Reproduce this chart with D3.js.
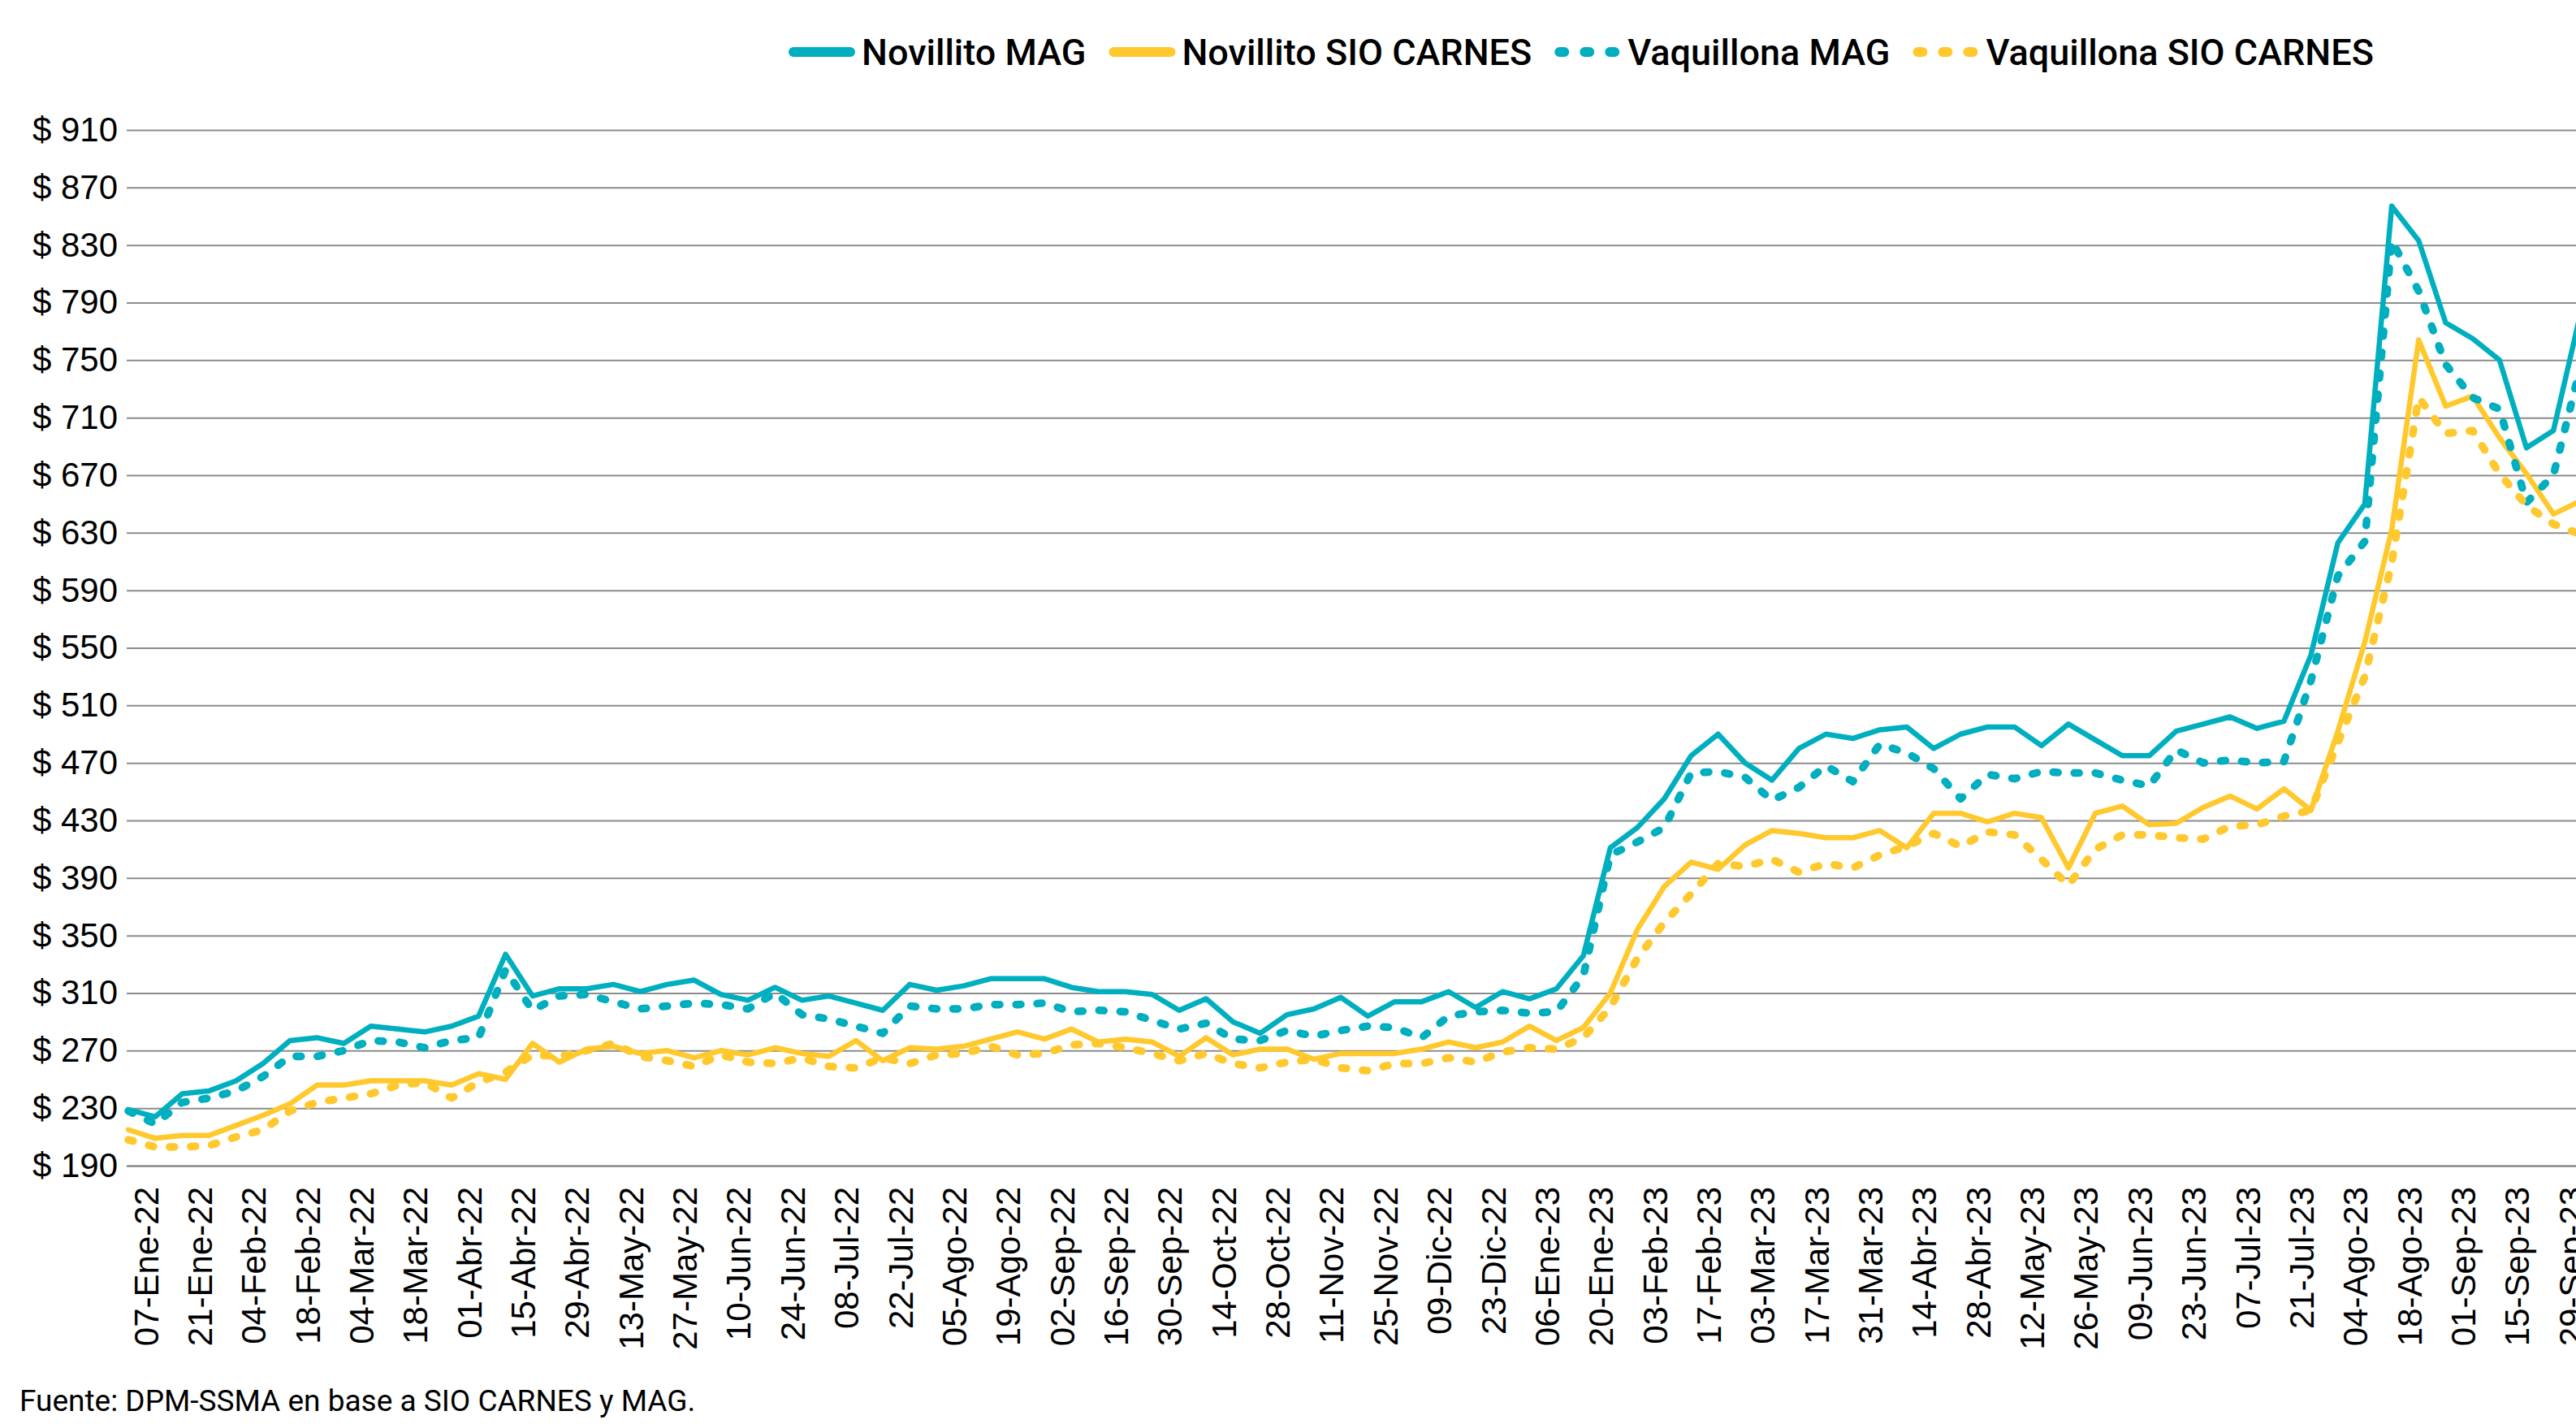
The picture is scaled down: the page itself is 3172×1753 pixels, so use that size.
<!DOCTYPE html>
<html>

<head>
    <meta charset="UTF-8">
    <title>Precio novillito y vaquillona</title>
    <style>
        body {
            margin: 0;
            background: #fff;
        }

        svg {
            display: block;
            font-family: Roboto, "Noto Sans", sans-serif;
        }

        .axis-y text {
            font-size: 42px;
            fill: #000;
        }

        .axis-x text {
            font-size: 42px;
            fill: #000;
        }

        .legend text {
            font-size: 45px;
            font-weight: 500;
            fill: #000;
        }
    </style>
</head>

<body>
    <div class="chartBox"></div>

    <script src="https://d3js.org/d3.v7.min.js"></script>
    <script>
        // weekly categories (Fridays), 07-Ene-22 .. 06-Oct-23
        const weeks = [
            "07-Ene-22", "14-Ene-22", "21-Ene-22", "28-Ene-22", "04-Feb-22", "11-Feb-22", "18-Feb-22", "25-Feb-22",
            "04-Mar-22", "11-Mar-22", "18-Mar-22", "25-Mar-22", "01-Abr-22", "08-Abr-22", "15-Abr-22", "22-Abr-22",
            "29-Abr-22", "06-May-22", "13-May-22", "20-May-22", "27-May-22", "03-Jun-22", "10-Jun-22", "17-Jun-22",
            "24-Jun-22", "01-Jul-22", "08-Jul-22", "15-Jul-22", "22-Jul-22", "29-Jul-22", "05-Ago-22", "12-Ago-22",
            "19-Ago-22", "26-Ago-22", "02-Sep-22", "09-Sep-22", "16-Sep-22", "23-Sep-22", "30-Sep-22", "07-Oct-22",
            "14-Oct-22", "21-Oct-22", "28-Oct-22", "04-Nov-22", "11-Nov-22", "18-Nov-22", "25-Nov-22", "02-Dic-22",
            "09-Dic-22", "16-Dic-22", "23-Dic-22", "30-Dic-22", "06-Ene-23", "13-Ene-23", "20-Ene-23", "27-Ene-23",
            "03-Feb-23", "10-Feb-23", "17-Feb-23", "24-Feb-23", "03-Mar-23", "10-Mar-23", "17-Mar-23", "24-Mar-23",
            "31-Mar-23", "07-Abr-23", "14-Abr-23", "21-Abr-23", "28-Abr-23", "05-May-23", "12-May-23", "19-May-23",
            "26-May-23", "02-Jun-23", "09-Jun-23", "16-Jun-23", "23-Jun-23", "30-Jun-23", "07-Jul-23", "14-Jul-23",
            "21-Jul-23", "28-Jul-23", "04-Ago-23", "11-Ago-23", "18-Ago-23", "25-Ago-23", "01-Sep-23", "08-Sep-23",
            "15-Sep-23", "22-Sep-23", "29-Sep-23", "06-Oct-23"
        ];

        // tick labels every two weeks
        const tickLabels = weeks.filter((d, i) => i % 2 === 0 && i < 91);

        const yTicks = [190, 230, 270, 310, 350, 390, 430, 470, 510, 550, 590, 630, 670, 710, 750, 790, 830, 870, 910];

        const novilloMAG = [
            229, 224, 240, 242, 249, 261, 277, 279, 275, 287, 285, 283, 287, 294, 337, 308,
            313, 313, 316, 311, 316, 319, 309, 305, 314, 305, 308, 303, 298, 316, 312, 315,
            320, 320, 320, 314, 311, 311, 309, 298, 306, 290, 282, 295, 299, 307, 294, 304,
            304, 311, 300, 311, 306, 313, 336, 411, 425, 445, 475, 490, 470, 458, 480, 490,
            487, 493, 495, 480, 490, 495, 495, 482, 497, 486, 475, 475, 492, 497, 502, 494,
            499, 545, 623, 650, 857, 833, 776, 765, 750, 689, 701, 782
        ];

        const novilloSIO = [
            215, 209, 211, 211, 218, 225, 233, 246, 246, 249, 249, 249, 246, 254, 250, 275,
            262, 271, 273, 268, 270, 265, 270, 267, 272, 268, 266, 277, 263, 272, 271, 273,
            278, 283, 278, 285, 276, 278, 276, 266, 279, 267, 271, 271, 264, 268, 268, 268,
            271, 276, 272, 276, 287, 277, 286, 310, 354, 384, 401, 396, 413, 423, 421, 418,
            418, 423, 411, 435, 435, 429, 435, 432, 397, 435, 440, 427, 428, 439, 447, 438,
            452, 437, 492, 554, 632, 764, 718, 725, 696, 671, 643, 652
        ];

        const vaquillonaMAG = [
            228, 219, 234, 237, 242, 252, 266, 266, 270, 277, 276, 272, 277, 279, 326, 298,
            308, 309, 304, 299, 301, 303, 302, 299, 310, 295, 292, 287, 282, 301, 299, 299,
            302, 302, 303, 297, 298, 297, 291, 285, 289, 278, 277, 284, 280, 284, 287, 286,
            279, 294, 297, 298, 296, 297, 322, 406, 415, 425, 463, 464, 460, 444, 453, 468,
            457, 483, 477, 466, 445, 462, 459, 464, 463, 463, 458, 454, 479, 470, 472, 470,
            471, 527, 600, 624, 833, 798, 747, 724, 716, 651, 670, 745
        ];

        const vaquillonaSIO = [
            208, 203, 203, 204, 210, 215, 228, 234, 237, 240, 246, 248, 237, 248, 255, 267,
            266, 270, 275, 266, 263, 259, 267, 262, 261, 265, 259, 258, 265, 261, 267, 268,
            273, 267, 268, 274, 275, 272, 268, 263, 268, 261, 258, 262, 264, 258, 256, 261,
            261, 265, 262, 269, 272, 271, 279, 300, 334, 359, 379, 400, 398, 403, 394, 400,
            397, 406, 412, 421, 412, 422, 420, 403, 385, 410, 420, 420, 418, 417, 426, 427,
            433, 437, 484, 530, 609, 724, 699, 701, 671, 649, 636, 629
        ];

        const teal = "#00AFBF", gold = "#FFC82C";

        const series = [
            { name: "Novillito MAG", values: novilloMAG, color: teal, dotted: false },
            { name: "Novillito SIO CARNES", values: novilloSIO, color: gold, dotted: false },
            { name: "Vaquillona MAG", values: vaquillonaMAG, color: teal, dotted: true },
            { name: "Vaquillona SIO CARNES", values: vaquillonaSIO, color: gold, dotted: true }
        ];

        // Dimensions
        const width = 3172, height = 1753;
        const plotLeft = 156, step = 33.18, firstX = 158;
        const yTop = 160, yBottom = 1435;

        const svg = d3.select(".chartBox")
            .append("svg")
            .attr("width", width)
            .attr("height", height);

        // scales
        const x = d3.scalePoint()
            .domain(weeks)
            .range([firstX, firstX + step * (weeks.length - 1)]);

        const y = d3.scaleLinear()
            .domain([190, 910])
            .range([yBottom, yTop]);

        // y-axis with gridlines
        const axisY = svg.append("g")
            .attr("class", "axis-y")
            .attr("transform", `translate(${plotLeft}, 0)`)
            .call(d3.axisLeft(y)
                .tickValues(yTicks)
                .tickSize(-(width - plotLeft))
                .tickPadding(11)
                .tickFormat(d => `$ ${d}`));
        axisY.select(".domain").remove();
        axisY.selectAll(".tick line")
            .attr("stroke", d => d === 190 ? "#6e6e6e" : "#8c8c8c")
            .attr("stroke-width", 2);

        // x-axis, rotated labels
        const axisX = svg.append("g")
            .attr("class", "axis-x")
            .attr("transform", `translate(0, ${yBottom})`)
            .call(d3.axisBottom(x).tickValues(tickLabels).tickSize(0));
        axisX.select(".domain").remove();
        axisX.selectAll(".tick text")
            .attr("transform", "rotate(-90)")
            .attr("text-anchor", "end")
            .attr("x", -26)
            .attr("y", 36)
            .attr("dy", 0);

        // lines
        const line = d3.line()
            .x((d, i) => x(weeks[i]))
            .y(d => y(d));

        svg.append("g")
            .selectAll("path")
            .data(series)
            .enter()
            .append("path")
            .attr("fill", "none")
            .attr("stroke", d => d.color)
            .attr("stroke-width", d => d.dotted ? 9.5 : 6.5)
            .attr("stroke-linejoin", "round")
            .attr("stroke-linecap", "round")
            .attr("stroke-dasharray", d => d.dotted ? "6 20" : null)
            .attr("d", d => line(d.values));

        // legend
        const legend = svg.append("g").attr("class", "legend");
        let lx = 971;
        series.forEach(s => {
            legend.append("line")
                .attr("x1", lx + 6).attr("x2", lx + 76)
                .attr("y1", 64).attr("y2", 64)
                .attr("stroke", s.color)
                .attr("stroke-width", 12)
                .attr("stroke-linecap", "round")
                .attr("stroke-dasharray", s.dotted ? "6 25" : null);
            const t = legend.append("text")
                .attr("x", lx + 90)
                .attr("y", 80)
                .text(s.name);
            lx += 90 + t.node().getComputedTextLength() + 28;
        });

        // source note
        svg.append("text")
            .attr("x", 24)
            .attr("y", 1737)
            .attr("font-size", 37)
            .text("Fuente: DPM-SSMA en base a SIO CARNES y MAG.");
    </script>
</body>

</html>
